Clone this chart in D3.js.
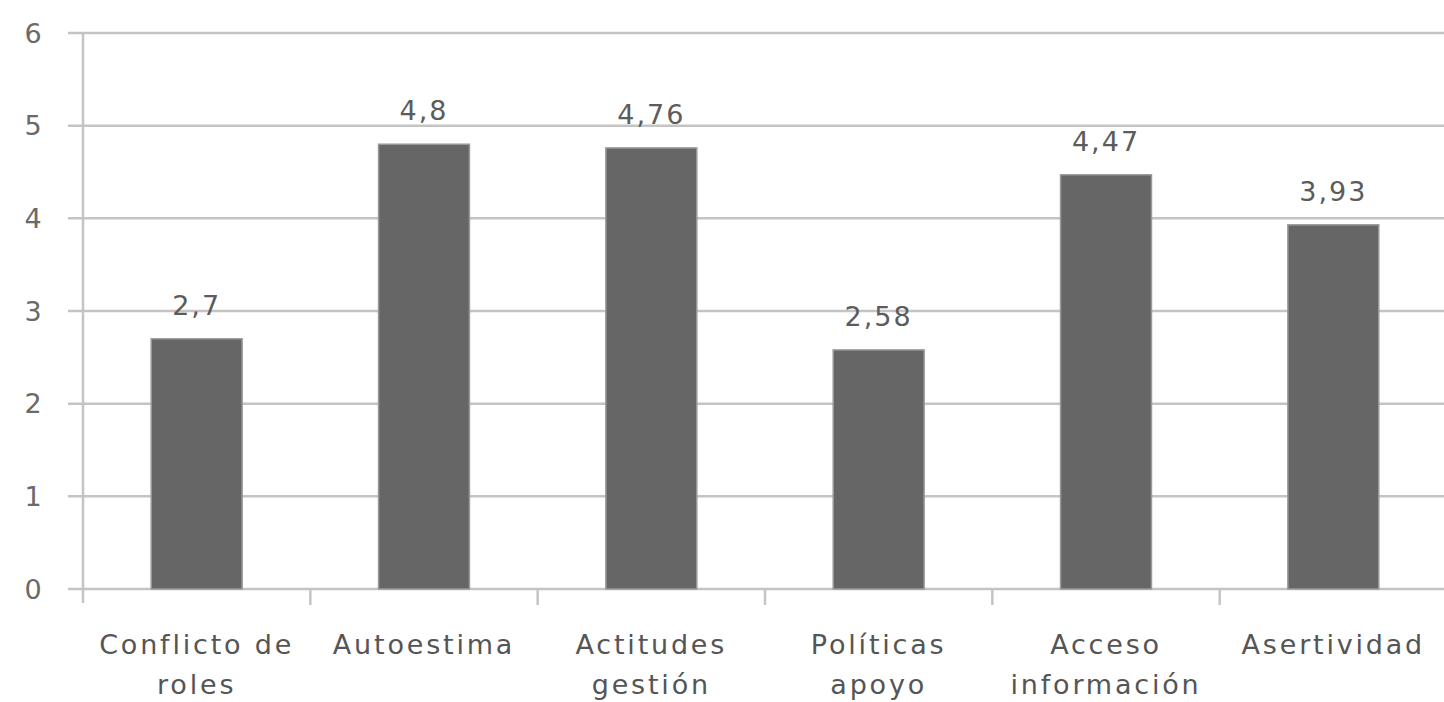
<!DOCTYPE html>
<html>
<head>
<meta charset="utf-8">
<script src="https://cdn.jsdelivr.net/npm/d3@7"></script>
<style>
  html, body { margin: 0; padding: 0; background: #ffffff; }
  svg { display: block; }
</style>
</head>
<body>
<svg id="chart" width="1444" height="702"></svg>
<script>
const categories = [["Conflicto de", "roles"], ["Autoestima"], ["Actitudes", "gestión"], ["Políticas", "apoyo"], ["Acceso", "información"], ["Asertividad"]];
const values = [2.7, 4.8, 4.76, 2.58, 4.47, 3.93];
const valueLabels = ["2,7", "4,8", "4,76", "2,58", "4,47", "3,93"];
const yTicks = [0, 1, 2, 3, 4, 5, 6];

const svg = d3.select("#chart");
const mLeft = 83, mRight = 1447, mTop = 33, mBottom = 589;
const font = "'DejaVu Sans', sans-serif";

const keys = categories.map((c, i) => i);
const x = d3.scaleBand().domain(keys).range([mLeft, mRight]).paddingInner(0.6).paddingOuter(0.3);
const xb = d3.scaleBand().domain(keys).range([mLeft, mRight]).padding(0);
const y = d3.scaleLinear().domain([0, 6]).range([mBottom, mTop]);

const gridColor = "#c4c4c4";

// gridlines
svg.append("g").selectAll("line").data(yTicks).join("line")
  .attr("x1", mLeft - 15).attr("x2", 1444)
  .attr("y1", d => y(d)).attr("y2", d => y(d))
  .attr("stroke", gridColor).attr("stroke-width", 2.5);

// y axis line
svg.append("line").attr("x1", mLeft).attr("x2", mLeft)
  .attr("y1", y(6)).attr("y2", mBottom + 14)
  .attr("stroke", gridColor).attr("stroke-width", 2.5);

// category boundary ticks
svg.append("g").selectAll("line").data(keys.slice(1)).join("line")
  .attr("x1", d => xb(d)).attr("x2", d => xb(d))
  .attr("y1", mBottom).attr("y2", mBottom + 16)
  .attr("stroke", gridColor).attr("stroke-width", 2.5);

// y tick labels
svg.append("g").selectAll("text").data(yTicks).join("text")
  .attr("x", 33).attr("y", d => y(d))
  .attr("dy", "0.36em")
  .attr("text-anchor", "middle")
  .attr("font-family", font).attr("font-size", 27)
  .attr("fill", "#6a6a6a")
  .text(d => d);

// bars
svg.append("g").selectAll("rect").data(values).join("rect")
  .attr("x", (d, i) => x(i)).attr("width", x.bandwidth())
  .attr("y", d => y(d)).attr("height", d => mBottom - y(d))
  .attr("fill", "#666666")
  .attr("stroke", "#9a9a9a").attr("stroke-width", 1.5);

// value labels
svg.append("g").selectAll("text").data(values).join("text")
  .attr("x", (d, i) => x(i) + x.bandwidth() / 2)
  .attr("y", d => y(d) - 24)
  .attr("text-anchor", "middle")
  .attr("font-family", font).attr("font-size", 27)
  .attr("letter-spacing", 2)
  .attr("fill", "#5c5c5c")
  .text((d, i) => valueLabels[i]);

// category labels
const cat = svg.append("g").selectAll("text").data(categories).join("text")
  .attr("text-anchor", "middle")
  .attr("font-family", font).attr("font-size", 27)
  .attr("letter-spacing", 2.8)
  .attr("fill", "#555555");
cat.each(function(lines, i) {
  const t = d3.select(this);
  lines.forEach((ln, j) => {
    t.append("tspan")
      .attr("x", xb(i) + xb.bandwidth() / 2)
      .attr("y", 654 + j * 40)
      .text(ln);
  });
});
</script>
</body>
</html>
